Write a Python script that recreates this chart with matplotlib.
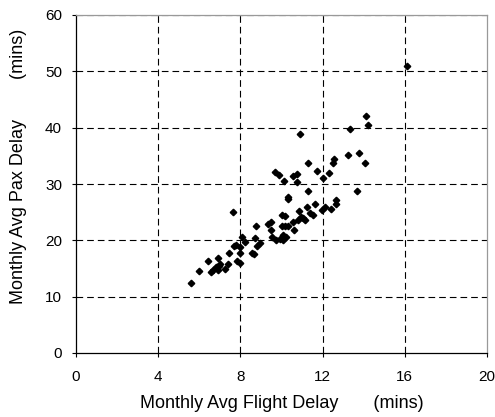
import matplotlib
matplotlib.use("Agg")
import matplotlib.pyplot as plt

plt.rcParams['font.family'] = ['Liberation Sans', 'DejaVu Sans']

flight_delay = [5.59, 5.98, 6.43, 6.56, 6.68, 6.79, 6.90, 6.94, 7.02, 6.90,
                7.24, 7.39, 7.44, 7.63, 7.68, 7.80, 7.84, 7.99, 7.96, 8.07,
                7.99, 8.23, 8.57, 8.64, 8.70, 8.78, 8.80, 8.93, 9.34, 9.47,
                9.47, 9.55, 9.66, 9.74, 9.90, 9.95, 10.02, 10.03, 10.06, 10.08,
                10.11, 10.18, 10.16, 10.22, 10.31, 10.32, 10.55, 10.55, 10.75, 10.76,
                10.60, 10.79, 10.84, 10.91, 10.96, 11.04, 11.12, 11.23, 11.28, 11.28,
                11.41, 11.52, 11.64, 11.72, 11.96, 12.01, 12.14, 12.33, 12.42, 12.50,
                12.54, 12.63, 12.66, 13.22, 13.35, 13.66, 13.76, 14.04, 14.12, 14.23,
                16.09, 10.33]
pax_delay = [12.4, 14.5, 16.4, 14.4, 14.8, 15.2, 16.8, 15.4, 15.8, 14.8,
             14.9, 15.8, 17.8, 25.0, 19.0, 19.2, 16.3, 16.0, 17.7, 20.6,
             18.8, 19.7, 17.8, 17.6, 20.5, 22.5, 19.0, 19.5, 22.9, 23.2,
             21.9, 20.6, 32.1, 20.1, 31.6, 20.2, 24.5, 22.6, 21.0, 20.0,
             30.6, 24.4, 22.6, 20.6, 27.7, 22.5, 23.2, 31.4, 31.8, 30.3,
             21.9, 23.6, 25.2, 38.8, 24.1, 23.9, 23.6, 25.9, 28.8, 33.7,
             24.9, 24.5, 26.5, 32.3, 25.3, 31.0, 26.0, 32.0, 25.5, 33.8,
             34.4, 26.5, 27.2, 35.2, 39.7, 28.7, 35.5, 33.7, 42.1, 40.4,
             51.0, 27.4]

x_ticks = [0, 4, 8, 12, 16, 20]
y_ticks = [0, 10, 20, 30, 40, 50, 60]
x_label = "Monthly Avg Flight Delay       (mins)"
y_label = "Monthly Avg Pax Delay        (mins)"

fig = plt.figure(figsize=(4.95, 4.17), dpi=100)
ax = fig.add_axes([76/495, 1-353/417, (487-76)/495, (353-15)/417])

for v in x_ticks[1:-1]:
    ax.axvline(v, color='black', lw=0.8, dashes=(6, 3.6), zorder=1)
for v in y_ticks[1:]:
    ax.axhline(v, color='black', lw=0.8, dashes=(6, 3.6), zorder=1)

ax.plot(flight_delay, pax_delay, linestyle='none', marker='D', ms=3.3,
        color='black', zorder=3, clip_on=False)

ax.set_xlim(0, 20)
ax.set_ylim(0, 60)
ax.set_xticks(x_ticks)
ax.set_yticks(y_ticks)
ax.tick_params(axis='both', direction='out', length=3, width=0.8,
               labelsize=11, colors='black')
ax.tick_params(axis='x', pad=9)
ax.tick_params(axis='y', pad=7)

for s in ['left', 'bottom']:
    ax.spines[s].set_color('black')
    ax.spines[s].set_linewidth(0.9)
for s in ['top', 'right']:
    ax.spines[s].set_color('#999999')
    ax.spines[s].set_linewidth(0.9)

ax.set_xlabel(x_label, fontsize=13)
ax.set_ylabel(y_label, fontsize=13)
ax.xaxis.set_label_coords(0.5, -0.125)
ax.yaxis.set_label_coords(-0.12, 0.552)

fig.savefig("out.png", dpi=100)
